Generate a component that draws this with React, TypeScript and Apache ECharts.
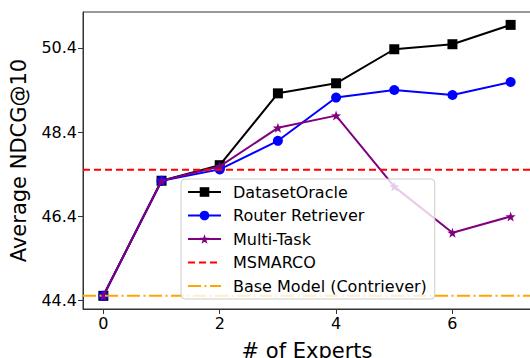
import React, { useEffect, useRef } from "react";
import * as echarts from "echarts";

const experts = [0, 1, 2, 3, 4, 5, 6, 7];
const datasetOracle = [44.5, 47.24, 47.61, 49.32, 49.56, 50.37, 50.49, 50.95];
const routerRetriever = [44.5, 47.24, 47.51, 48.19, 49.22, 49.4, 49.28, 49.59];
const multiTask = [44.5, 47.24, 47.58, 48.5, 48.79, 47.1, 46.0, 46.39];
const msmarco = 47.5;
const baseModel = 44.5;
const yTicks = [44.4, 46.4, 48.4, 50.4];
const xTicks = [0, 2, 4, 6];
const X_MIN = -0.35;
const X_MAX = 7.35;

const STAR =
  "path://M0,-10 L2.35,-3.24 L9.51,-3.09 L3.8,1.24 L5.88,8.09 L0,4 L-5.88,8.09 L-3.8,1.24 L-9.51,-3.09 L-2.35,-3.24 Z";

const FONT = "DejaVu Sans";

export default function App() {
  const ref = useRef<HTMLDivElement>(null);
  useEffect(() => {
    if (!ref.current) return;
    const chart = echarts.init(ref.current, null, { renderer: "svg" });
    const pair = (arr: number[]) => experts.map((x, i) => [x, arr[i]]);
    chart.setOption({
      animation: false,
      textStyle: { fontFamily: FONT },
      grid: {
        left: 83,
        top: 12,
        width: 448,
        height: 297,
        show: true,
        borderColor: "#333",
        borderWidth: 1,
        backgroundColor: "transparent",
        outerBoundsMode: "none",
        containLabel: false,
      },
      xAxis: {
        type: "value",
        min: X_MIN,
        max: X_MAX,
        name: "# of Experts",
        nameLocation: "middle",
        nameGap: 31,
        nameTextStyle: { fontSize: 21, color: "#000", fontFamily: FONT },
        splitLine: { show: false },
        axisLine: { show: true, onZero: false, lineStyle: { color: "#333", width: 1 } },
        axisTick: { show: true, customValues: xTicks, length: 5, lineStyle: { color: "#333" } },
        axisLabel: {
          customValues: xTicks,
          fontSize: 16,
          color: "#000",
          margin: 6,
          fontFamily: FONT,
        },
      },
      yAxis: {
        type: "value",
        min: 44.186,
        max: 51.257,
        name: "Average NDCG@10",
        nameLocation: "middle",
        nameGap: 54,
        nameTextStyle: { fontSize: 21, color: "#000", fontFamily: FONT },
        splitLine: { show: false },
        axisLine: { show: true, onZero: false, lineStyle: { color: "#333", width: 1 } },
        axisTick: { show: true, customValues: yTicks, length: 5, lineStyle: { color: "#333" } },
        axisLabel: {
          customValues: yTicks,
          fontSize: 16,
          color: "#000",
          margin: 6,
          fontFamily: FONT,
          formatter: (v: number) => v.toFixed(1),
        },
      },
      legend: {
        left: 181,
        top: 179,
        z: 20,
        orient: "vertical",
        itemWidth: 33,
        itemHeight: 12,
        itemGap: 7.5,
        padding: [5, 8, 5, 6],
        backgroundColor: "rgba(255,255,255,0.8)",
        borderColor: "#cccccc",
        borderWidth: 1,
        borderRadius: 4,
        textStyle: { fontSize: 16, color: "#000", fontFamily: FONT, padding: [0, 0, 0, 7] },
        data: [
          { name: "DatasetOracle" },
          { name: "Router Retriever" },
          { name: "Multi-Task" },
          { name: "MSMARCO", itemStyle: { opacity: 0 } },
          { name: "Base Model (Contriever)", itemStyle: { opacity: 0 } },
        ],
      },
      series: [
        {
          name: "DatasetOracle",
          type: "line",
          data: pair(datasetOracle),
          symbol: "rect",
          symbolSize: 10,
          itemStyle: { color: "#000" },
          lineStyle: { color: "#000", width: 2 },
          z: 3,
        },
        {
          name: "Router Retriever",
          type: "line",
          data: pair(routerRetriever),
          symbol: "circle",
          symbolSize: 10,
          itemStyle: { color: "#0000ff" },
          lineStyle: { color: "#0000ff", width: 2 },
          z: 4,
        },
        {
          name: "Multi-Task",
          type: "line",
          data: pair(multiTask),
          symbol: STAR,
          symbolSize: 10,
          itemStyle: { color: "#800080" },
          lineStyle: { color: "#800080", width: 2 },
          z: 5,
        },
        {
          name: "MSMARCO",
          type: "line",
          data: [
            [X_MIN, msmarco],
            [X_MAX, msmarco],
          ],
          symbol: "none",
          itemStyle: { color: "#ff0000" },
          lineStyle: { color: "#ff0000", width: 2, type: [7, 4] },
          z: 6,
        },
        {
          name: "Base Model (Contriever)",
          type: "line",
          data: [
            [X_MIN, baseModel],
            [X_MAX, baseModel],
          ],
          symbol: "none",
          itemStyle: { color: "#ffa500" },
          lineStyle: { color: "#ffa500", width: 2, type: [13, 3.5, 2, 3.5] },
          z: 6,
        },
      ],
    });
    return () => chart.dispose();
  }, []);
  return <div ref={ref} style={{ width: 530, height: 358, position: "absolute", left: 0, top: 0 }} />;
}
